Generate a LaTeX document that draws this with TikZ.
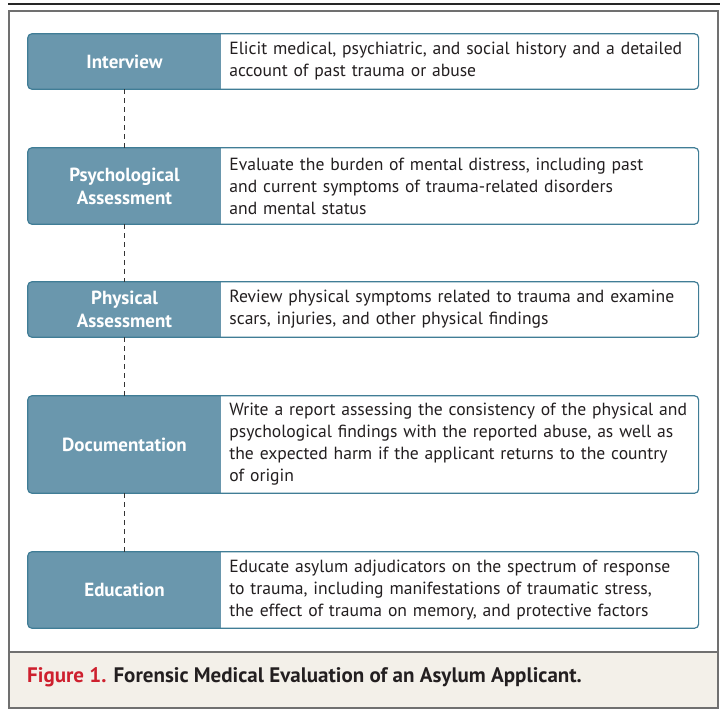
\documentclass[tikz,border=0pt]{standalone}
\usepackage{fontspec}
\setmainfont{PT Sans}
\usepackage{tikz}
\usetikzlibrary{positioning,backgrounds}
\usepackage{xcolor}
\definecolor{stepblue}{RGB}{106,151,173}
\definecolor{stepline}{RGB}{64,125,150}
\definecolor{figred}{RGB}{206,32,46}
\definecolor{capfill}{RGB}{243,240,233}
\definecolor{txtgray}{RGB}{35,31,32}
\definecolor{framegray}{RGB}{112,112,112}

\begin{document}
\begin{tikzpicture}[x=1pt, y=-1pt,
    stepname/.style={minimum width=193pt, inner sep=0pt, align=center, text=white,
        font=\fontsize{19}{23}\selectfont\bfseries},
    steptext/.style={minimum width=477pt, text width=461pt, inner xsep=8pt, inner ysep=0pt,
        align=left, fill=white, text=txtgray, font=\fontsize{17.6}{22}\selectfont},
    stepframe/.style={stepline, line width=1.2pt, rounded corners=4pt},
    stepdash/.style={black!80, line width=1.1pt, dash pattern=on 5pt off 4pt}]
    \useasboundingbox (0,0) rectangle (722,709);

    % Outer frame and caption band
    \draw[black!85, line width=1.4pt] (8,4) -- (720,4);
    \fill[capfill] (9,652) rectangle (718,708);
    \draw[framegray, line width=2pt] (9,11) rectangle (718,708);
    \draw[framegray, line width=2pt] (9,652) -- (718,652);

    % Steps
    \foreach \n/\y/\h/\lab/\txt in {
        int/61.5/55/{Interview}/{Elicit medical, psychiatric, and social history and a detailed\\account of past trauma or abuse},
        psy/186/76/{Psychological\\Assessment}/{Evaluate the burden of mental distress, including past\\and current symptoms of trauma-related disorders\\and mental status},
        phy/309.5/55/{Physical\\Assessment}/{Review physical symptoms related to trauma and examine\\scars, injuries, and other physical findings},
        doc/444.5/97/{Documentation}/{Write a report assessing the consistency of the physical and\\psychological findings with the reported abuse, as well as\\the expected harm if the applicant returns to the country\\of origin},
        edu/590/76/{Education}/{Educate asylum adjudicators on the spectrum of response\\to trauma, including manifestations of traumatic stress,\\the effect of trauma on memory, and protective factors}} {
        \node[stepname, minimum height=\h pt] (\n) at (124.5,\y) {\lab};
        \node[steptext, minimum height=\h pt, right=0pt of \n] (\n-t) {\txt};
        \begin{scope}[on background layer]
            \fill[stepblue, rounded corners=4pt] (\n.north west) rectangle ([xshift=8pt]\n.south east);
        \end{scope}
        \draw[stepframe] (\n.north west) rectangle (\n-t.south east);
    }

    % Dashed links
    \foreach \a/\b in {int/psy, psy/phy, phy/doc, doc/edu}
        \draw[stepdash] (\a.south) -- (\b.north);

    % Caption
    \node[anchor=west, inner sep=0pt, text=txtgray, font=\fontsize{21}{24}\selectfont\bfseries] (cap) at (27,677)
        {\textcolor{figred}{Figure 1.} Forensic Medical Evaluation of an Asylum Applicant.};

\end{tikzpicture}
\end{document}
